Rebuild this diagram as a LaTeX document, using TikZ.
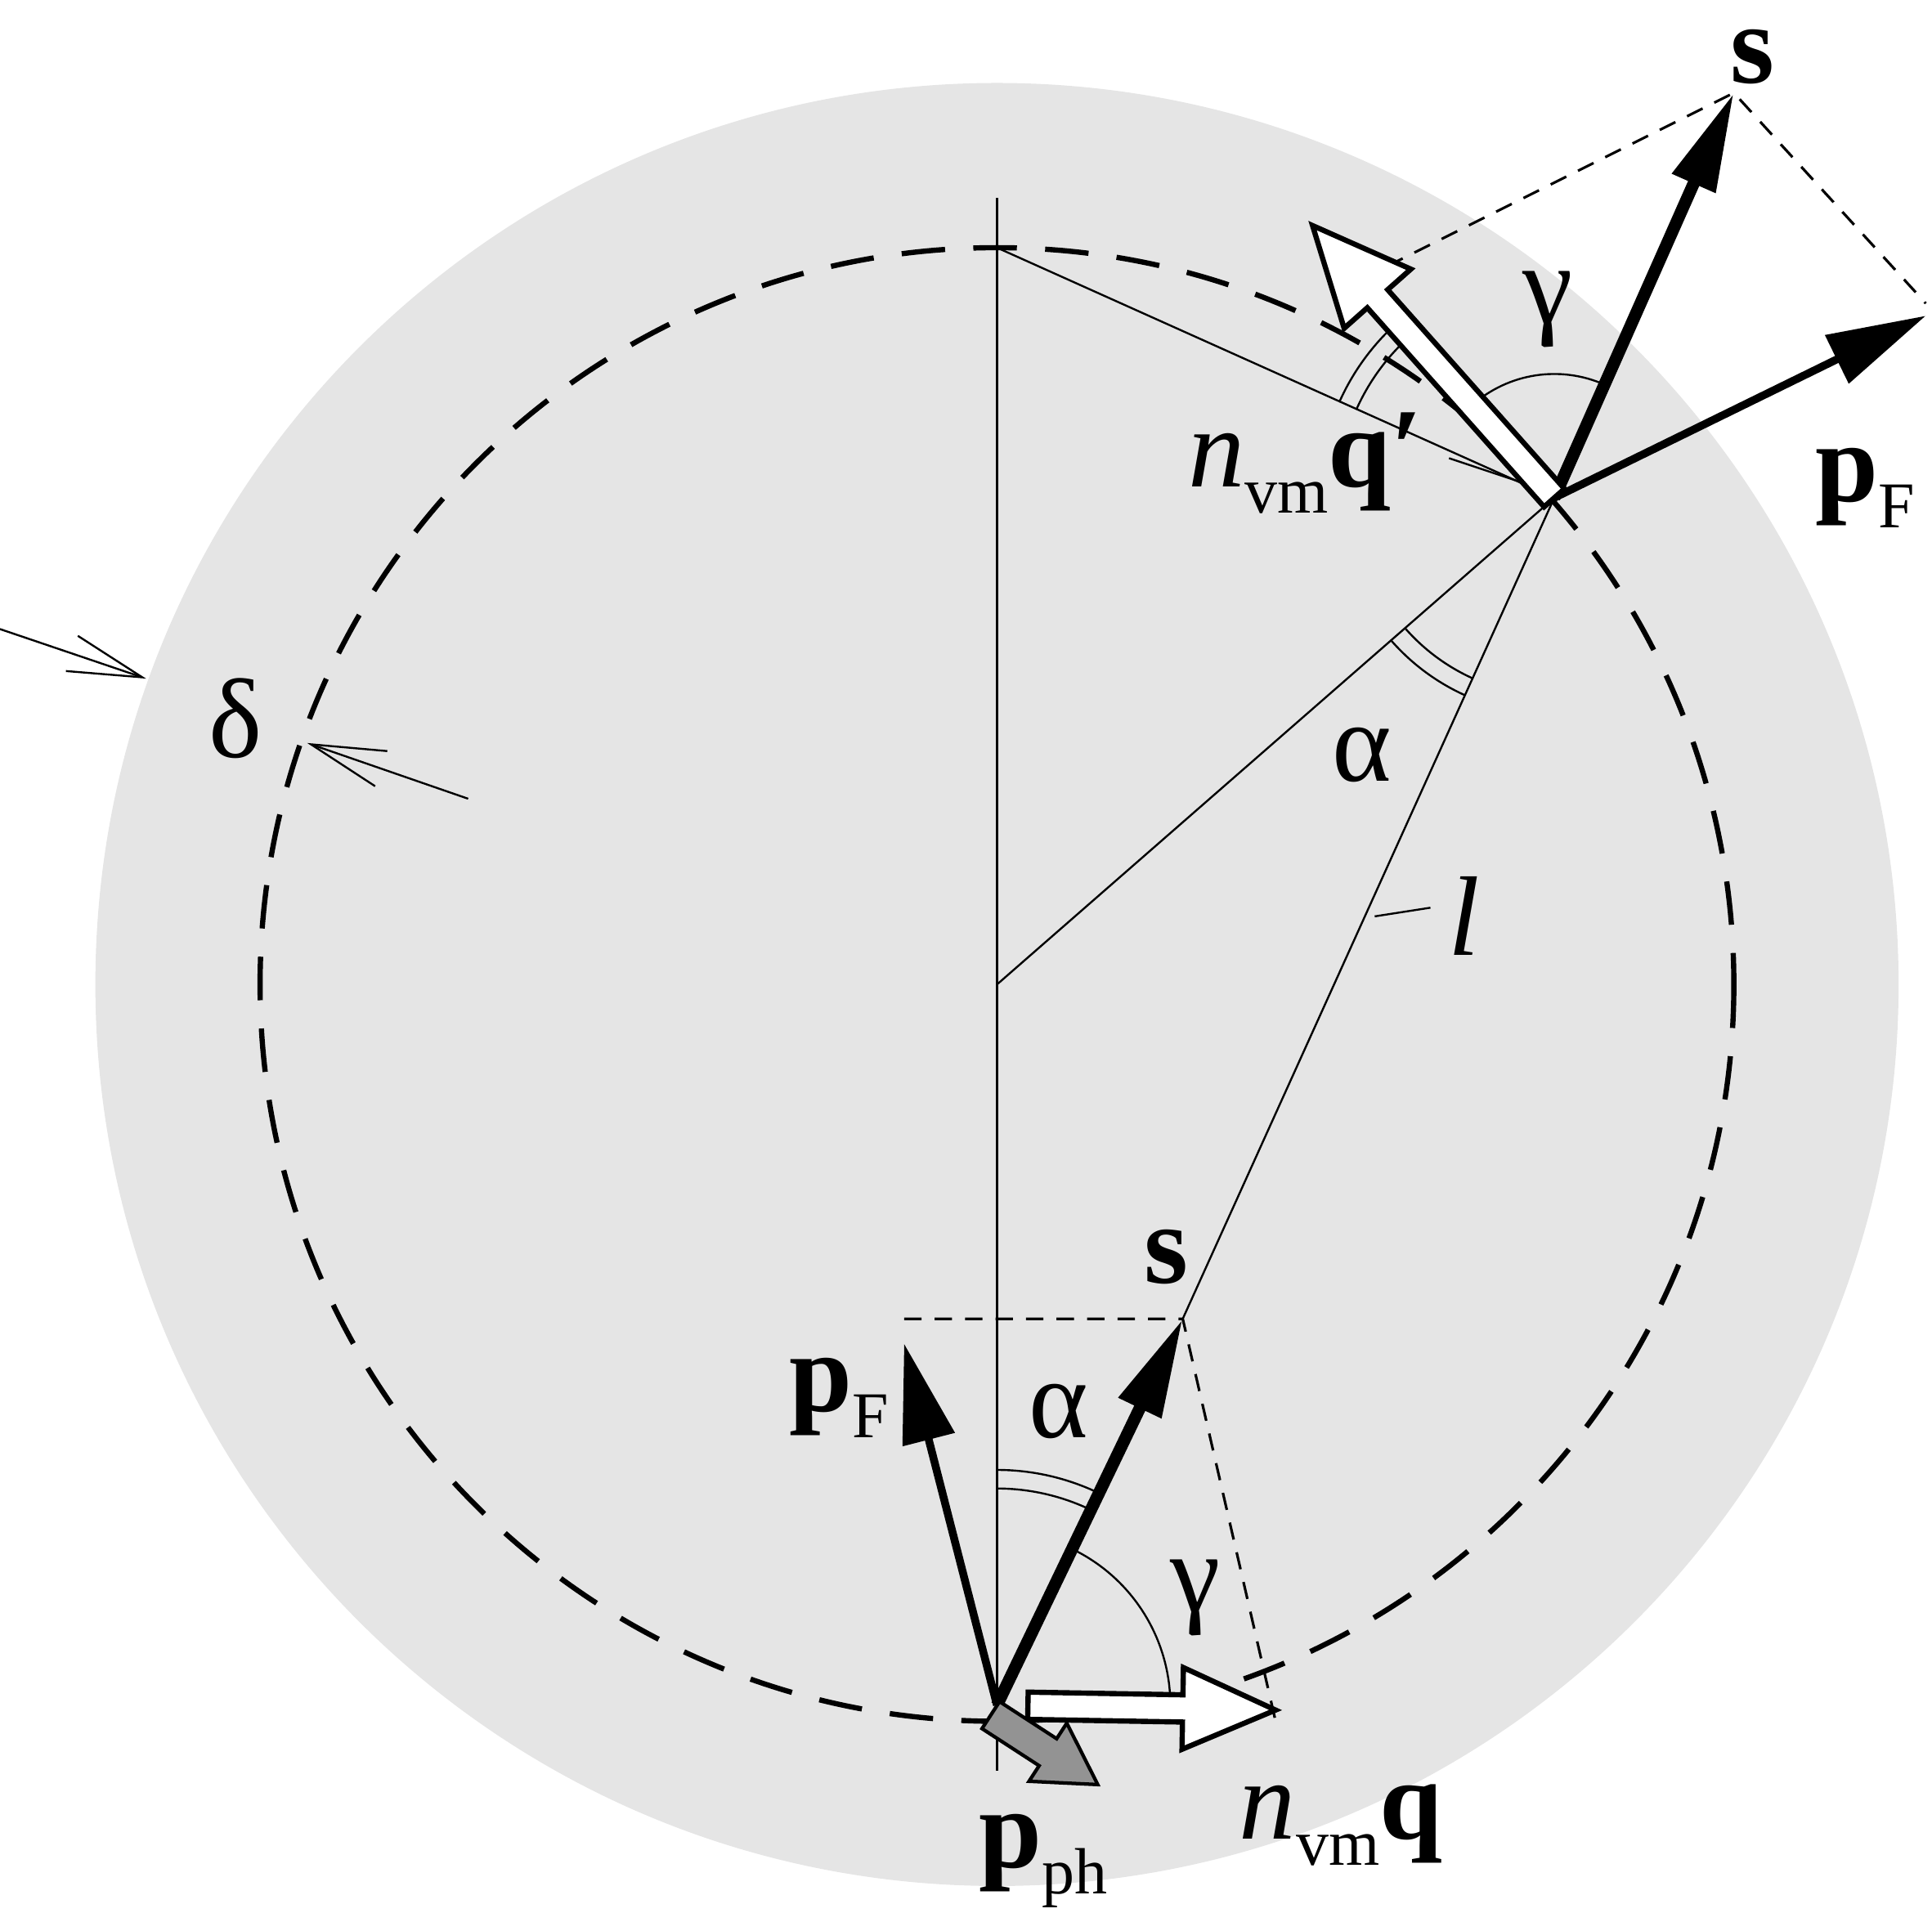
\documentclass[tikz,border=0pt]{standalone}
\usepackage{fontspec}
\setmainfont{Liberation Serif}
\usetikzlibrary{arrows.meta}
\begin{document}
\begin{tikzpicture}[x=0.01cm,y=-0.01cm,
  thin line/.style={line width=0.45pt},
  dashcirc/.style={line width=1.2pt,dash pattern=on 10pt off 6.5pt},
  dashln/.style={line width=0.6pt,dash pattern=on 4pt off 3pt},
  bigvec/.style={line width=2.8pt,-{Triangle[length=0.8cm,width=0.36cm]}},
  midvec/.style={line width=1.8pt,-{Triangle[length=0.8cm,width=0.42cm]}},
  lbl/.style={font=\fontsize{26}{26}\selectfont,inner sep=0pt}]
\newcommand{\subtx}[1]{\raisebox{-6pt}{\fontsize{15}{15}\selectfont #1}}
\useasboundingbox (0,0) rectangle (1560,1552);
\fill[gray!20] (805,795) circle[radius=728];
\draw[dashcirc] (805,795) circle[radius=595];
\coordinate (C) at (805,795);
\coordinate (T) at (805,200);
\coordinate (P0) at (805,1377);
\coordinate (P1) at (955,1065);
\coordinate (P2) at (1255,402);
\coordinate (S2) at (1400,75);
\coordinate (F2) at (1555,255);
\coordinate (F1) at (730,1085);
\coordinate (R1) at (730,1065);
\coordinate (Q1) at (1030,1390);
\coordinate (R2) at (1555,245);
\coordinate (R3) at (1120,215);
% thin lines
\draw[thin line] (805,160) -- (805,1430);
\draw[thin line] (C) -- (P2);
\draw[thin line] (T) -- (P2);
\draw[thin line] (P1) -- (P2);
\draw[thin line] (1110,740) -- (1155,733);
\draw[thin line] (1170,370) -- (1230,390);
% dashed
\draw[dashln] (R1) -- (P1) -- (Q1);
\draw[dashln] (R3) -- (S2) -- (R2);
% arcs
\draw[thin line] (P0) ++(140,0) arc[start angle=0,end angle=-64.2,radius=140];
\draw[thin line] (P0) ++(-90:175) arc[start angle=-90,end angle=-64.2,radius=175];
\draw[thin line] (P0) ++(-90:190) arc[start angle=-90,end angle=-64.2,radius=190];
\draw[thin line] (P2) ++(138.7:160) arc[start angle=138.7,end angle=114.3,radius=160];
\draw[thin line] (P2) ++(138.7:175) arc[start angle=138.7,end angle=114.3,radius=175];
\draw[thin line] (P2) ++(-131.6:100) arc[start angle=-131.6,end angle=-65.9,radius=100];
\draw[thin line] (P2) ++(-156:175) arc[start angle=-156,end angle=-131.6,radius=175];
\draw[thin line] (P2) ++(-156:190) arc[start angle=-156,end angle=-131.6,radius=190];
% black vectors
\draw[bigvec] (P0) -- (P1);
\draw[midvec] (P0) -- (F1);
\draw[bigvec] (P2) -- (S2);
\draw[midvec] (P2) -- (F2);
% hollow arrows
\begin{scope}[shift={(P0)},rotate=-1]
\draw[line width=1.2pt,fill=white] (25,-11) -- (150,-11) -- (150,-33) -- (225,0) -- (150,33) -- (150,11) -- (25,11) -- cycle;
\end{scope}
\begin{scope}[shift={(P2)},rotate=131.6]
\draw[line width=1.2pt,fill=white] (0,-11) -- (215,-11) -- (215,-36) -- (294,0) -- (215,36) -- (215,11) -- (0,11) -- cycle;
\end{scope}
\begin{scope}[shift={(800,1385)},rotate=-33]
\draw[line width=0.8pt,fill=gray!85] (0,-13) -- (55,-13) -- (55,-28) -- (103,0) -- (55,28) -- (55,13) -- (0,13) -- cycle;
\end{scope}
% delta arrows
\draw[thin line,-{Straight Barb[open,length=0.6cm,width=0.3cm]}] (0,508) -- (118,548);
\draw[thin line,-{Straight Barb[open,length=0.6cm,width=0.3cm]}] (378,645) -- (248,600);
% labels
\node[lbl] (ls2) at (1415,46) {\textbf{s}};
\node[lbl,anchor=base west] (lpf2) at (1465,405) {\textbf{p}\subtx{F}};
\node[lbl,anchor=base east] (lq2) at (1150,393) {\textit{n}\subtx{vm}\textbf{q′}};
\node[lbl] (lg2) at (1250,250) {γ};
\node[lbl] (la2) at (1100,610) {α};
\node[lbl] (ll) at (1182,740) {\textit{l}};
\node[lbl] (ls1) at (942,1015) {\textbf{s}};
\node[lbl,anchor=base east] (lpf1) at (718,1140) {\textbf{p}\subtx{F}};
\node[lbl] (la1) at (855,1140) {α};
\node[lbl] (lg1) at (965,1290) {γ};
\node[lbl,anchor=base west] (lq1) at (1000,1485) {\textit{n}\subtx{vm}\textbf{q}};
\node[lbl,anchor=base west] (lph) at (790,1508) {\textbf{p}\subtx{ph}};
\node[lbl] (ld) at (190,580) {δ};
\end{tikzpicture}
\end{document}
